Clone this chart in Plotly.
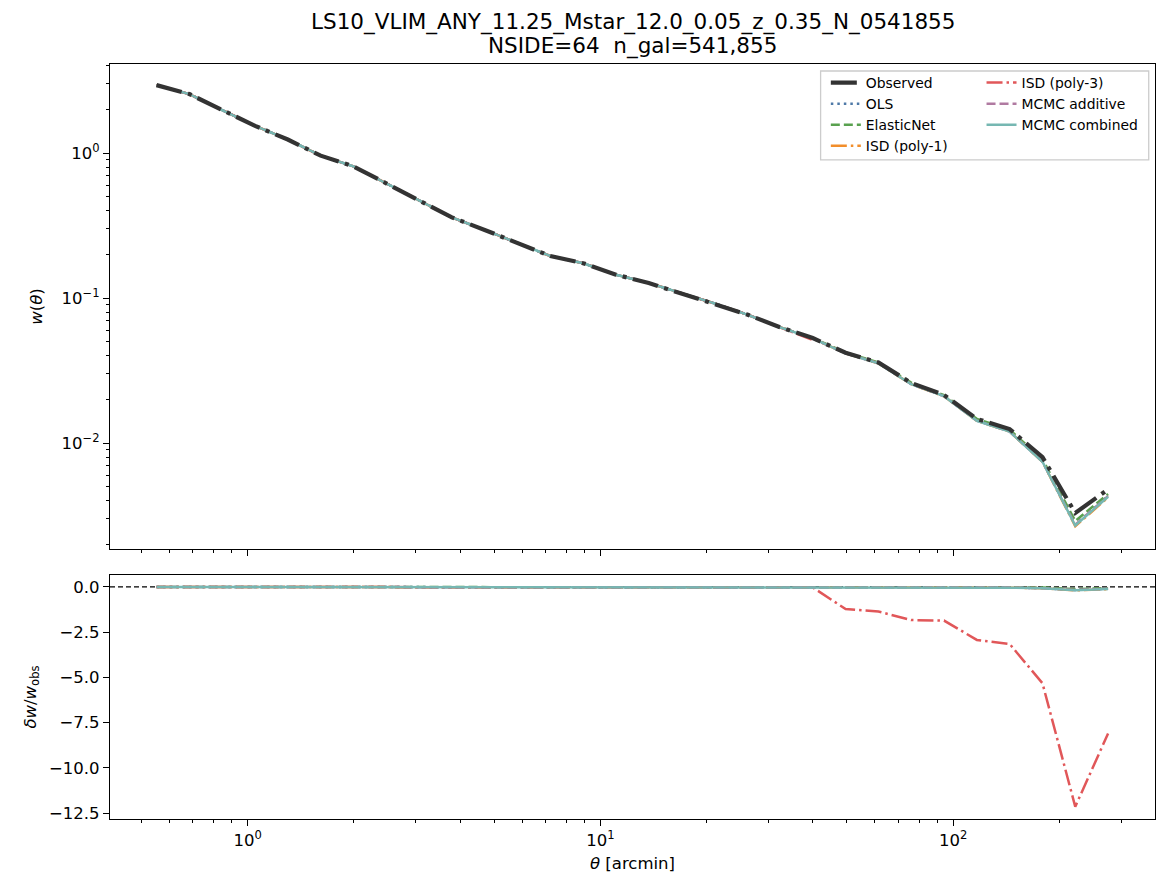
import plotly.graph_objects as go

# ---------------- data ----------------
theta = [0.552, 0.684, 0.847, 1.050, 1.300, 1.611, 1.995, 2.472, 3.062, 3.793,
         4.699, 5.821, 7.211, 8.933, 11.07, 13.71, 16.98, 21.04, 26.06, 32.28,
         39.99, 49.55, 61.38, 76.03, 94.19, 116.7, 144.5, 179.1, 221.8, 274.8]

w_obs = [2.94, 2.55, 1.98, 1.54, 1.24, 0.96, 0.81, 0.62, 0.47, 0.36,
         0.295, 0.24, 0.195, 0.174, 0.145, 0.127, 0.108, 0.092, 0.077, 0.063,
         0.053, 0.042, 0.036, 0.026, 0.0215, 0.0147, 0.0125, 0.0080, 0.0033, 0.0048]

zeros20 = [0.0] * 20
d_ols = zeros20 + [-0.005, -0.010, -0.012, -0.018, -0.020, -0.028, -0.035, -0.065, -0.170, -0.100]
d_enet = zeros20 + [0.000, 0.005, 0.000, 0.005, -0.005, 0.000, -0.010, -0.030, -0.120, -0.070]
d_isd1 = zeros20 + [-0.005, -0.010, -0.015, -0.020, -0.022, -0.030, -0.040, -0.070, -0.190, -0.120]
d_isd3 = zeros20 + [-0.03, -1.22, -1.36, -1.83, -1.86, -2.93, -3.15, -5.33, -12.15, -8.10]
d_mcmc_add = zeros20 + [-0.005, -0.010, -0.012, -0.018, -0.020, -0.028, -0.038, -0.068, -0.170, -0.100]
d_mcmc_comb = zeros20 + [-0.005, -0.010, -0.015, -0.020, -0.020, -0.030, -0.040, -0.070, -0.180, -0.110]

methods = [
    ("OLS", d_ols, "#4e79a7", "2.5px,4px", "legend"),
    ("ElasticNet", d_enet, "#59a14f", "9px,4px", "legend"),
    ("ISD (poly-1)", d_isd1, "#f28e2b", "16px,4px,2.5px,4px", "legend"),
    ("ISD (poly-3)", d_isd3, "#e15759", "16px,4px,2.5px,4px", "legend2"),
    ("MCMC additive", d_mcmc_add, "#b07aa1", "9px,4px", "legend2"),
    ("MCMC combined", d_mcmc_comb, "#76b7b2", "solid", "legend2"),
]

title1 = "LS10_VLIM_ANY_11.25_Mstar_12.0_0.05_z_0.35_N_0541855"
title2 = "NSIDE=64  n_gal=541,855"

FONT = "DejaVu Sans"
fig = go.Figure()

# top panel: corrected w (non-positive values cannot be shown on a log axis)
for k, (name, d, col, dash, lg) in enumerate(methods):
    w_corr = []
    for wo, dd in zip(w_obs, d):
        v = wo * (1.0 + dd)
        w_corr.append(v if v > 0 else None)
    fig.add_trace(go.Scatter(x=theta, y=w_corr, mode="lines", name=name,
                             line=dict(color=col, width=2.5, dash=dash),
                             xaxis="x", yaxis="y", legend=lg,
                             legendgroup=name, legendrank=k + 2,
                             connectgaps=False))

fig.add_trace(go.Scatter(x=theta, y=w_obs, mode="lines", name="Observed",
                         line=dict(color="#333333", width=4.2, dash="26px,6.5px,4px,6.5px"),
                         xaxis="x", yaxis="y", legend="legend",
                         legendgroup="Observed", legendrank=1))

# bottom panel: residuals
for name, d, col, dash, lg in methods:
    fig.add_trace(go.Scatter(x=theta, y=d, mode="lines", name=name, showlegend=False,
                             line=dict(color=col, width=2.5, dash=dash),
                             xaxis="x2", yaxis="y2"))

tickfont = dict(family=FONT, size=16.5, color="black")
axis_common = dict(showline=True, linecolor="black", linewidth=1.3, mirror=True,
                   ticks="outside", ticklen=6, tickwidth=1.3, tickcolor="black",
                   showgrid=False, zeroline=False, tickfont=tickfont)

xminor = [0.5, 0.6, 0.7, 0.8, 0.9, 2, 3, 4, 5, 6, 7, 8, 9,
          20, 30, 40, 50, 60, 70, 80, 90, 200, 300]
yminor = [0.002, 0.003, 0.004, 0.005, 0.006, 0.007, 0.008, 0.009,
          0.02, 0.03, 0.04, 0.05, 0.06, 0.07, 0.08, 0.09,
          0.2, 0.3, 0.4, 0.5, 0.6, 0.7, 0.8, 0.9, 2, 3, 4]
minor_style = dict(ticks="outside", ticklen=3.3, tickwidth=1, tickcolor="black", showgrid=False)

xr = [-0.390, 2.572]
fig.update_layout(
    width=1168, height=891,
    margin=dict(l=110, r=13, t=64, b=72),
    paper_bgcolor="white", plot_bgcolor="white",
    font=dict(family=FONT, size=16.5, color="black"),
    xaxis=dict(type="log", range=xr, anchor="y", matches="x2", showticklabels=False,
               tickvals=[1, 10, 100], minor=dict(tickvals=xminor, **minor_style),
               **axis_common),
    yaxis=dict(type="log", domain=[0.3576, 1.0], range=[-2.730, 0.614], anchor="x",
               tickvals=[0.01, 0.1, 1],
               ticktext=["10<sup>\u22122</sup>", "10<sup>\u22121</sup>", "10<sup>0</sup>"],
               minor=dict(tickvals=yminor, **minor_style),
               title=dict(text="<i>w</i>(<i>\u03b8</i>)", standoff=14,
                          font=dict(family=FONT, size=16.5)),
               **axis_common),
    xaxis2=dict(type="log", range=xr, anchor="y2",
                tickvals=[1, 10, 100],
                ticktext=["10<sup>0</sup>", "10<sup>1</sup>", "10<sup>2</sup>"],
                minor=dict(tickvals=xminor, **minor_style),
                title=dict(text="<i>\u03b8</i> [arcmin]", standoff=8,
                           font=dict(family=FONT, size=16.5)),
                **axis_common),
    yaxis2=dict(domain=[0.0, 0.3232], range=[-12.83, 0.66], anchor="x2",
                tickvals=[0, -2.5, -5, -7.5, -10, -12.5],
                ticktext=["0.0", "\u22122.5", "\u22125.0", "\u22127.5", "\u221210.0", "\u221212.5"],
                title=dict(text="<i>\u03b4w</i>/<i>w</i><sub>obs</sub>", standoff=8,
                           font=dict(family=FONT, size=16.5)),
                **axis_common),
    legend=dict(x=0.685, y=0.996, xanchor="left", yanchor="top",
                bgcolor="rgba(0,0,0,0)", borderwidth=0,
                font=dict(family=FONT, size=13.9), tracegroupgap=0,
                traceorder="grouped"),
    legend2=dict(x=0.834, y=0.996, xanchor="left", yanchor="top",
                 bgcolor="rgba(0,0,0,0)", borderwidth=0,
                 font=dict(family=FONT, size=13.9), tracegroupgap=0,
                 traceorder="grouped"),
    showlegend=True,
)

# legend frame
fig.add_shape(type="rect", xref="paper", yref="paper",
              x0=0.680, x1=0.994, y0=0.873, y1=0.9907,
              line=dict(color="#cccccc", width=1.3), fillcolor="rgba(255,255,255,0.8)",
              layer="above")

# zero reference line in residual panel
fig.add_shape(type="line", xref="x2 domain", yref="y2", x0=0, x1=1, y0=0, y1=0,
              line=dict(color="black", width=1.2, dash="5px,3px"), layer="below")

fig.add_annotation(text=title1, xref="paper", yref="paper", x=0.5, y=1.0556,
                   xanchor="center", yanchor="middle", showarrow=False,
                   font=dict(family=FONT, size=21.5, color="black"))
fig.add_annotation(text=title2, xref="paper", yref="paper", x=0.5, y=1.0238,
                   xanchor="center", yanchor="middle", showarrow=False,
                   font=dict(family=FONT, size=21.5, color="black"))

fig.write_html("out.html")
